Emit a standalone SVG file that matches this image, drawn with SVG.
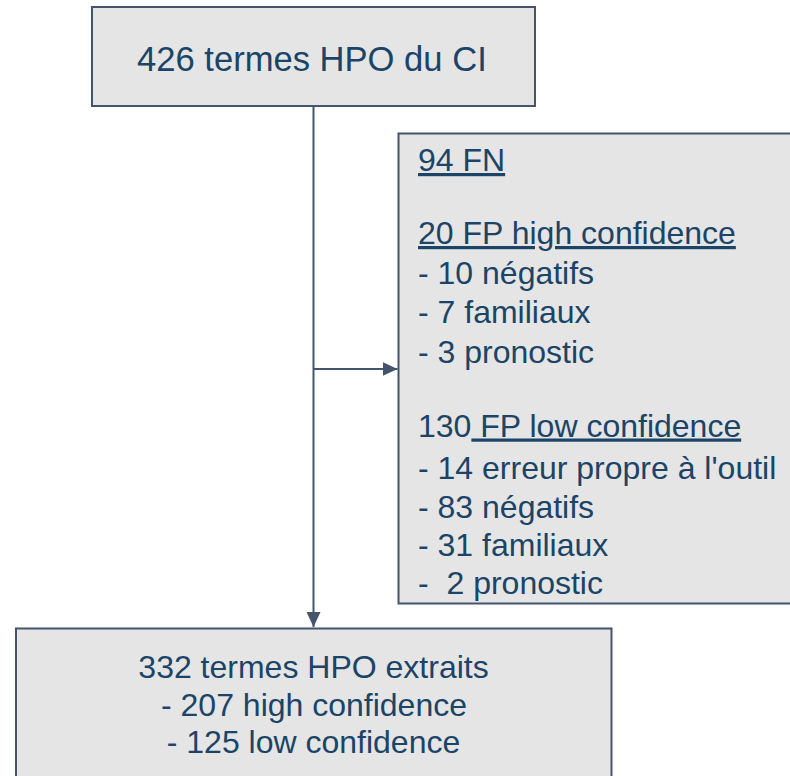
<svg xmlns="http://www.w3.org/2000/svg" width="790" height="776" viewBox="0 0 790 776">
  <style>
    .box { fill: #e5e5e5; stroke: #44546a; stroke-width: 2; }
    .t { font-family: "Liberation Sans", Arial, sans-serif; fill: #1b4466; font-size: 32px; }
    .u { text-decoration: underline; }
    .conn { stroke: #44546a; stroke-width: 2; fill: none; }
  </style>
  <defs>
    <marker id="arr" viewBox="0 0 15 14" refX="15" refY="7" markerWidth="15" markerHeight="14" markerUnits="userSpaceOnUse" orient="auto">
      <path d="M0,0 L15,7 L0,14 Z" fill="#44546a"/>
    </marker>
  </defs>
  <g id="connectors">
    <line class="conn" x1="313.5" y1="106" x2="313.5" y2="627" marker-end="url(#arr)"/>
    <line class="conn" x1="313.5" y1="369" x2="397.5" y2="369" marker-end="url(#arr)"/>
  </g>
  <g id="node-top">
    <rect class="box" x="92" y="7" width="443" height="99"/>
    <text class="t" x="137" y="71" style="font-size:34.6px">426 termes HPO du CI</text>
  </g>
  <g id="node-right">
    <rect class="box" x="398.5" y="133.5" width="400" height="470"/>
    <text class="t u" x="418" y="171">94 FN</text>
    <text class="t u" x="418" y="244">20 FP high confidence</text>
    <text class="t" x="418" y="284">- 10 négatifs</text>
    <text class="t" x="418" y="322.5">- 7 familiaux</text>
    <text class="t" x="418" y="363">- 3 pronostic</text>
    <text class="t" x="418" y="436.5">130<tspan class="u"> FP low confidence</tspan></text>
    <text class="t" x="418" y="479">- 14 erreur propre à l'outil</text>
    <text class="t" x="418" y="517.5">- 83 négatifs</text>
    <text class="t" x="418" y="556">- 31 familiaux</text>
    <text class="t" x="418" y="593.5" xml:space="preserve">-  2 pronostic</text>
  </g>
  <g id="node-bottom">
    <rect class="box" x="16" y="628.5" width="595.5" height="160"/>
    <text class="t" x="313.5" y="678" text-anchor="middle">332 termes HPO extraits</text>
    <text class="t" x="314" y="716" text-anchor="middle">- 207 high confidence</text>
    <text class="t" x="313.5" y="753" text-anchor="middle">- 125 low confidence</text>
  </g>
</svg>
